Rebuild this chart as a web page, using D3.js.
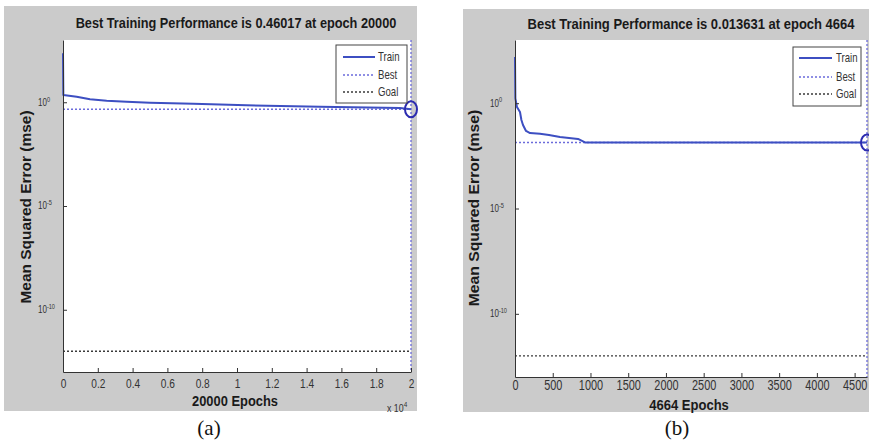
<!DOCTYPE html>
<html>
<head>
<meta charset="utf-8">
<script src="https://cdn.jsdelivr.net/npm/d3@7"></script>
<style>
  html, body { margin: 0; padding: 0; background: #fff; }
  svg { display: block; }
</style>
</head>
<body>
<svg id="fig" width="869" height="444"></svg>
<script>
// ---- (a) training run, 20000 epochs ----
const epochsA = [0, 20, 785, 1552, 2510, 3660, 5000, 7490, 10550, 14770, 19370, 20000];
const mseA    = [230, 2.24, 1.85, 1.38, 1.19, 1.06, 0.95, 0.85, 0.71, 0.61, 0.53, 0.46017];
const bestA = 0.46017;
const maxEpochA = 20000;
const xTicksA = [0, 2000, 4000, 6000, 8000, 10000, 12000, 14000, 16000, 18000, 20000];
const xTickLabelsA = ["0", "0.2", "0.4", "0.6", "0.8", "1", "1.2", "1.4", "1.6", "1.8", "2"];
const titleA = "Best Training Performance is 0.46017 at epoch 20000";
const xLabelA = "20000 Epochs";

// ---- (b) training run, 4664 epochs ----
const epochsB = [0, 5, 26, 66, 85, 106, 146, 199, 331, 450, 596, 835, 928, 4664];
const mseB    = [155, 1.7, 0.66, 0.38, 0.16, 0.092, 0.048, 0.038, 0.035, 0.031, 0.025, 0.02, 0.013631, 0.013631];
const bestB = 0.013631;
const maxEpochB = 4664;
const xTicksB = [0, 500, 1000, 1500, 2000, 2500, 3000, 3500, 4000, 4500];
const xTickLabelsB = ["0", "500", "1000", "1500", "2000", "2500", "3000", "3500", "4000", "4500"];
const titleB = "Best Training Performance is 0.013631 at epoch 4664";
const xLabelB = "4664 Epochs";

// ---- shared ----
const goalMse = 1e-12;
const yDomain = [1e-13, 1e3];
const yTicks = [1, 1e-5, 1e-10];
const yTickExponents = ["0", "-5", "-10"];
const legendLabels = ["Train", "Best", "Goal"];
const yLabel = "Mean Squared Error  (mse)";

const FONT = "'Liberation Sans', Arial, sans-serif";
const GRAY = "#cbcbcb";
const TRAIN = "#3d4fc2";
const BEST = "#6b6bdb";
const GOAL = "#3a3a3a";
const INK = "#1a1a1a";

const svg = d3.select("#fig");

// bold label placed at (x, y), squeezed horizontally by sx
function boldText(g, x, y, sx, str, rotate) {
  return g.append("text")
    .attr("transform", `translate(${x},${y})${rotate ? " rotate(-90)" : ""} scale(${sx},1)`)
    .attr("text-anchor", "middle")
    .attr("font-family", FONT).attr("font-size", 15).attr("font-weight", "bold")
    .attr("fill", INK)
    .text(str);
}

function drawPanel(L, D) {
  const g = svg.append("g");

  g.append("rect")
    .attr("x", L.bg.x).attr("y", L.bg.y)
    .attr("width", L.bg.w).attr("height", L.bg.h)
    .attr("fill", GRAY);

  g.append("rect")
    .attr("x", L.l).attr("y", L.t)
    .attr("width", L.r - L.l).attr("height", L.b - L.t)
    .attr("fill", "#fff");

  const x = d3.scaleLinear().domain([0, D.maxEpoch]).range([L.l, L.r]);
  const y = d3.scaleLog().domain(yDomain).range([L.b, L.t]);

  // goal level
  g.append("line")
    .attr("x1", x(0)).attr("x2", x(D.maxEpoch))
    .attr("y1", y(goalMse)).attr("y2", y(goalMse))
    .attr("stroke", GOAL).attr("stroke-width", 1.3)
    .attr("stroke-dasharray", "2,2");

  // best performance, horizontal and vertical guides
  g.append("line")
    .attr("x1", x(0)).attr("x2", x(D.maxEpoch))
    .attr("y1", y(D.best)).attr("y2", y(D.best))
    .attr("stroke", BEST).attr("stroke-width", 1.3)
    .attr("stroke-dasharray", "2,2");
  g.append("line")
    .attr("x1", x(D.maxEpoch)).attr("x2", x(D.maxEpoch))
    .attr("y1", L.t).attr("y2", L.b)
    .attr("stroke", BEST).attr("stroke-width", 1.3)
    .attr("stroke-dasharray", "2,2");

  // training curve
  const line = d3.line().x(d => x(d[0])).y(d => y(d[1]));
  g.append("path")
    .datum(d3.zip(D.epochs, D.mse))
    .attr("d", line)
    .attr("fill", "none")
    .attr("stroke", TRAIN)
    .attr("stroke-width", 2)
    .attr("stroke-linejoin", "round");

  // marker on the best epoch
  g.append("ellipse")
    .attr("cx", x(D.maxEpoch)).attr("cy", y(D.best))
    .attr("rx", 6).attr("ry", 8)
    .attr("fill", "none")
    .attr("stroke", "#2c2cb0").attr("stroke-width", 2);

  // x axis
  const xAxis = d3.axisBottom(x)
    .tickValues(D.xTicks)
    .tickFormat((v, i) => D.xTickLabels[i])
    .tickSizeInner(-4).tickSizeOuter(0)
    .tickPadding(L.xPad);
  const gx = g.append("g").attr("transform", `translate(0,${L.b})`).call(xAxis);
  gx.select(".domain").attr("stroke", "#333");
  gx.selectAll(".tick line").attr("stroke", "#333");
  gx.selectAll(".tick text")
    .attr("font-family", FONT).attr("font-size", L.xTickSize)
    .attr("fill", "#333")
    .attr("transform", "scale(0.78,1)");

  // y axis (log), 10^n labels
  const yAxis = d3.axisLeft(y)
    .tickValues(yTicks)
    .tickFormat(() => "")
    .tickSizeInner(-4).tickSizeOuter(0);
  const gy = g.append("g").attr("transform", `translate(${L.l},0)`).call(yAxis);
  gy.select(".domain").attr("stroke", "#333");
  gy.selectAll(".tick line").attr("stroke", "#333");
  gy.selectAll(".tick text").each(function (v, i) {
    const t = d3.select(this);
    t.text(null)
      .attr("x", 0).attr("dy", null).attr("y", 2.8)
      .attr("text-anchor", "start")
      .attr("transform", `translate(-25,0) scale(0.8,1)`)
      .attr("font-family", FONT).attr("font-size", 10)
      .attr("fill", "#333");
    t.append("tspan").text("10");
    t.append("tspan").attr("dy", -4).attr("font-size", 7).text(yTickExponents[i]);
  });

  // title, axis labels
  boldText(g, L.title.cx, L.title.y, L.title.sx, D.title, false);
  boldText(g, L.yl.x, L.yl.cy, L.yl.sx, yLabel, true);
  boldText(g, L.xl.cx, L.xl.y, L.xl.sx, D.xLabel, false);

  // axis multiplier (x 10^4)
  if (L.mult) {
    const m = g.append("text")
      .attr("transform", `translate(${L.mult.x},${L.mult.y}) scale(0.8,1)`)
      .attr("font-family", FONT).attr("font-size", 11)
      .attr("fill", "#333");
    m.append("tspan").text("x 10");
    m.append("tspan").attr("dy", -5).attr("font-size", 8).text(L.mult.exp);
  }

  // legend
  const lg = g.append("g");
  lg.append("rect")
    .attr("x", L.leg.x).attr("y", L.leg.y)
    .attr("width", L.leg.w).attr("height", L.leg.h)
    .attr("fill", "#fff").attr("stroke", "#444").attr("stroke-width", 1);
  const styles = [
    { stroke: TRAIN, w: 2, dash: null },
    { stroke: BEST, w: 1.3, dash: "2,2" },
    { stroke: GOAL, w: 1.3, dash: "2,2" }
  ];
  legendLabels.forEach((lab, i) => {
    const ry = L.leg.rows[i];
    lg.append("line")
      .attr("x1", L.leg.lx1).attr("x2", L.leg.lx2)
      .attr("y1", ry).attr("y2", ry)
      .attr("stroke", styles[i].stroke).attr("stroke-width", styles[i].w)
      .attr("stroke-dasharray", styles[i].dash);
    lg.append("text")
      .attr("transform", `translate(${L.leg.tx},${ry + 4.3}) scale(0.8,1)`)
      .attr("font-family", FONT).attr("font-size", 12)
      .attr("fill", "#333")
      .text(lab);
  });

  // caption
  g.append("text")
    .attr("x", L.cap.cx).attr("y", L.cap.y)
    .attr("text-anchor", "middle")
    .attr("font-family", "'Liberation Serif', 'Times New Roman', serif")
    .attr("font-size", 21).attr("fill", "#111")
    .text(L.cap.text);
}

drawPanel(
  {
    bg: { x: 4, y: 6, w: 413, h: 405 },
    l: 63, r: 411, t: 40, b: 372,
    xPad: 7, xTickSize: 13,
    title: { cx: 236, y: 28, sx: 0.85 },
    yl: { x: 31, cy: 207, sx: 1.03 },
    xl: { cx: 235, y: 406, sx: 0.86 },
    mult: { x: 387, y: 412, exp: "4" },
    leg: { x: 336, y: 45, w: 71, h: 58, lx1: 343, lx2: 375, tx: 378, rows: [57, 75, 92] },
    cap: { cx: 209, y: 435, text: "(a)" }
  },
  { epochs: epochsA, mse: mseA, best: bestA, maxEpoch: maxEpochA,
    xTicks: xTicksA, xTickLabels: xTickLabelsA, title: titleA, xLabel: xLabelA }
);

drawPanel(
  {
    bg: { x: 463, y: 9, w: 406, h: 403 },
    l: 515, r: 867, t: 40, b: 377,
    xPad: 3.5, xTickSize: 14,
    title: { cx: 691, y: 29, sx: 0.867 },
    yl: { x: 479, cy: 208, sx: 1.05 },
    xl: { cx: 689, y: 410, sx: 0.87 },
    mult: null,
    leg: { x: 793, y: 47, w: 68, h: 59, lx1: 799, lx2: 832, tx: 836, rows: [58, 77, 94] },
    cap: { cx: 677, y: 435, text: "(b)" }
  },
  { epochs: epochsB, mse: mseB, best: bestB, maxEpoch: maxEpochB,
    xTicks: xTicksB, xTickLabels: xTickLabelsB, title: titleB, xLabel: xLabelB }
);
</script>
</body>
</html>
